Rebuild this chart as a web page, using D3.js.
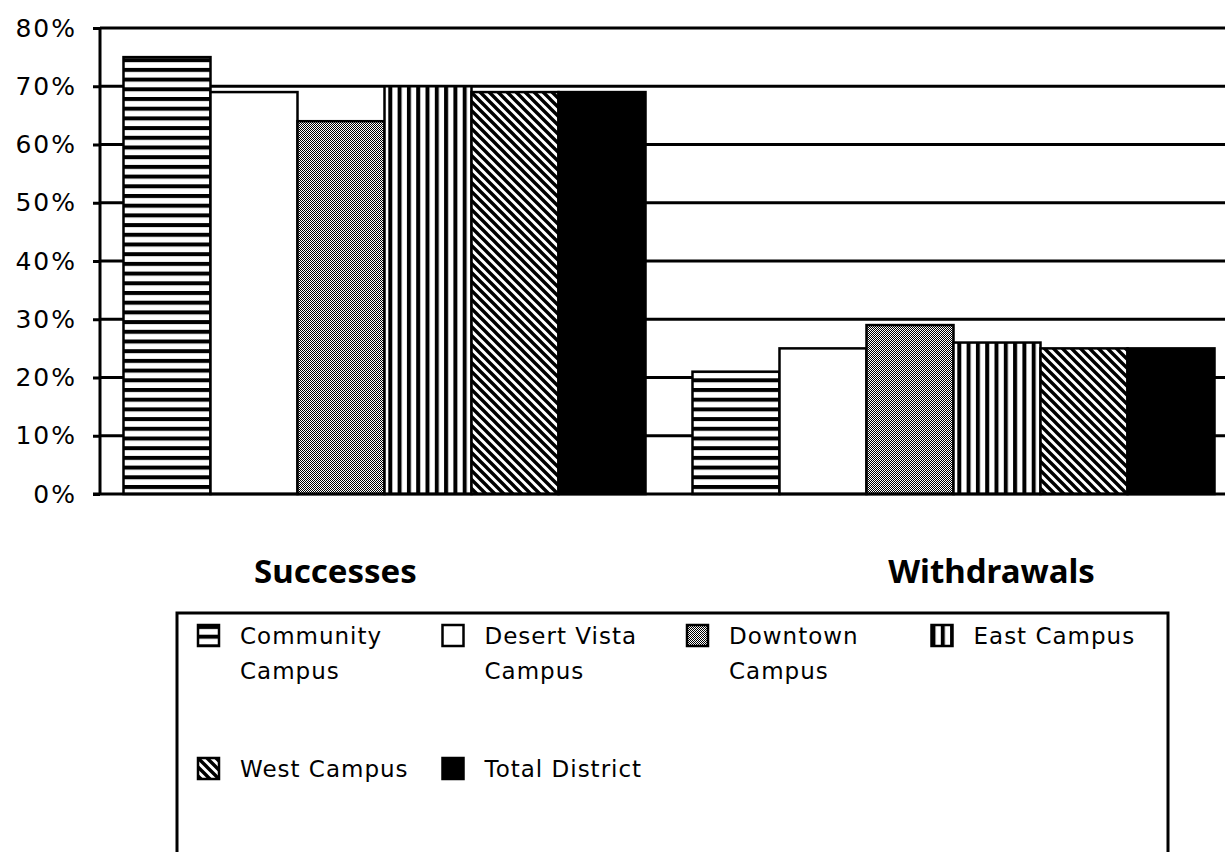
<!DOCTYPE html>
<html>
<head>
<meta charset="utf-8">
<script src="https://cdn.jsdelivr.net/npm/d3@7"></script>
<style>
    body { margin: 0; background: #fff; }
    svg { display: block; }
</style>
</head>
<body>
<svg id="chart" width="1225" height="852"></svg>
<script>
// chart data
const categories = ["Successes", "Withdrawals"];
const campuses = ["Community Campus", "Desert Vista Campus", "Downtown Campus", "East Campus", "West Campus", "Total District"];
const successes = [0.75, 0.69, 0.64, 0.70, 0.69, 0.69];
const withdrawals = [0.21, 0.25, 0.29, 0.26, 0.25, 0.25];
const yTicks = [0, 0.1, 0.2, 0.3, 0.4, 0.5, 0.6, 0.7, 0.8];
// legend labels, split into lines the way the reference wraps them
const legendLines = [["Community", "Campus"], ["Desert Vista", "Campus"], ["Downtown", "Campus"], ["East Campus"], ["West Campus"], ["Total District"]];

const MARGINS = {top: 28, left: 100, bottom: 494, right: 1238};
const FONT = "'DejaVu Sans', Verdana, sans-serif";

const svg = d3.select("#chart");
const defs = svg.append("defs");

// fill patterns, one per campus
function addPattern(id, w, h, draw){
    const p = defs.append("pattern")
        .attr("id", id)
        .attr("patternUnits", "userSpaceOnUse")
        .attr("width", w).attr("height", h);
    p.append("rect").attr("width", w).attr("height", h).attr("fill", "#fff");
    draw(p);
}
addPattern("pHoriz", 10, 9.7, function(p){
    p.append("rect").attr("x", 0).attr("y", 0).attr("width", 10).attr("height", 4).attr("fill", "#000");
});
addPattern("pVert", 9.3, 10, function(p){
    p.append("rect").attr("x", 0).attr("y", 0).attr("width", 4).attr("height", 10).attr("fill", "#000");
});
addPattern("pDots", 2, 2, function(p){
    p.append("rect").attr("x", 0).attr("y", 0).attr("width", 1).attr("height", 1).attr("fill", "#000");
    p.append("rect").attr("x", 1).attr("y", 1).attr("width", 1).attr("height", 1).attr("fill", "#000");
});
addPattern("pDiag", 9, 9, function(p){
    p.append("path")
        .attr("d", "M-3,-3 L12,12 M-12,-3 L3,12 M6,-3 L21,12")
        .attr("stroke", "#000").attr("stroke-width", 3.4);
});
const fills = ["url(#pHoriz)", "#fff", "url(#pDots)", "url(#pVert)", "url(#pDiag)", "#000"];

// scales
const x0 = d3.scaleBand().domain(categories).range([MARGINS.left, MARGINS.right]);
const x1 = d3.scaleBand().domain(campuses).range([0, x0.bandwidth()]).paddingOuter(0.27);
const y = d3.scaleLinear().domain([0, 0.8]).range([MARGINS.bottom, MARGINS.top]);

// gridlines
svg.append("g")
    .selectAll("line")
    .data(yTicks.filter(function(d){ return d > 0; }))
    .enter().append("line")
    .attr("x1", MARGINS.left).attr("x2", 1225)
    .attr("y1", function(d){ return y(d); })
    .attr("y2", function(d){ return y(d); })
    .attr("stroke", "#000").attr("stroke-width", 3);

// bars
const rows = [successes, withdrawals];
const groups = svg.append("g").selectAll("g")
    .data(categories)
    .enter().append("g")
    .attr("transform", function(d){ return `translate(${x0(d)},0)`; });

groups.selectAll("rect")
    .data(function(d, i){
        return campuses.map(function(c, j){ return {campus: c, value: rows[i][j], idx: j}; });
    })
    .enter().append("rect")
    .attr("x", function(d){ return x1(d.campus); })
    .attr("y", function(d){ return y(d.value); })
    .attr("width", x1.bandwidth())
    .attr("height", function(d){ return y(0) - y(d.value); })
    .attr("fill", function(d){ return fills[d.idx]; })
    .attr("stroke", "#000")
    .attr("stroke-width", 2.5);

// y axis
const yAxis = d3.axisLeft(y)
    .tickValues(yTicks)
    .tickSize(7)
    .tickPadding(16)
    .tickFormat(d3.format(".0%"));
const yg = svg.append("g")
    .attr("transform", `translate(${MARGINS.left},0)`)
    .call(yAxis);
yg.select(".domain").attr("stroke-width", 3).attr("d", `M0,${MARGINS.top}V${MARGINS.bottom}`);
yg.selectAll(".tick line").attr("stroke-width", 3);
yg.selectAll(".tick text")
    .attr("font-family", FONT)
    .attr("font-size", 25)
    .attr("letter-spacing", 2)
    .attr("fill", "#000");

// baseline
svg.append("line")
    .attr("x1", MARGINS.left - 7).attr("x2", 1225)
    .attr("y1", y(0)).attr("y2", y(0))
    .attr("stroke", "#000").attr("stroke-width", 3);

// category labels (the reference places them off-centre)
const labelShift = [-49, 38];
svg.append("g").selectAll("text")
    .data(categories)
    .enter().append("text")
    .attr("x", function(d, i){ return x0(d) + x0.bandwidth() / 2 + labelShift[i]; })
    .attr("y", 583)
    .attr("text-anchor", "middle")
    .attr("font-family", "'Noto Sans', sans-serif")
    .attr("font-weight", "bold")
    .attr("font-size", 33)
    .text(function(d){ return d; });

// legend
svg.append("path")
    .attr("d", "M177,860 V613 H1168 V860")
    .attr("fill", "none")
    .attr("stroke", "#000")
    .attr("stroke-width", 3);

const legendItems = svg.append("g").selectAll("g")
    .data(campuses)
    .enter().append("g")
    .attr("transform", function(d, i){
        const col = i % 4, row = Math.floor(i / 4);
        return `translate(${198 + col * 244.5},${625 + row * 133})`;
    });
legendItems.append("rect")
    .attr("width", 21).attr("height", 21)
    .attr("fill", function(d, i){ return fills[i]; })
    .attr("stroke", "#000").attr("stroke-width", 2.5);
legendItems.append("text")
    .attr("y", 19)
    .attr("font-family", FONT)
    .attr("font-size", 23)
    .attr("letter-spacing", 1)
    .attr("fill", "#000")
    .selectAll("tspan")
    .data(function(d, i){ return legendLines[i]; })
    .enter().append("tspan")
    .attr("x", 42)
    .attr("dy", function(d, i){ return i === 0 ? 0 : 35; })
    .text(function(d){ return d; });
</script>
</body>
</html>
